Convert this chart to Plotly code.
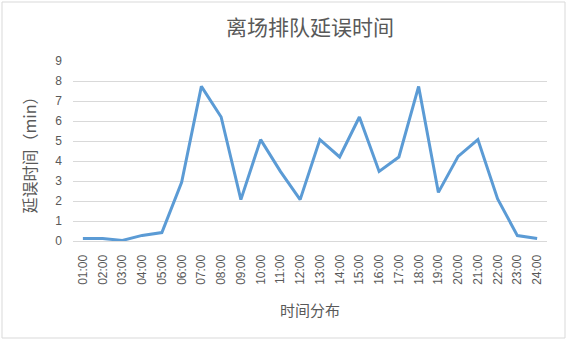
import plotly.graph_objects as go

hours = ["01:00","02:00","03:00","04:00","05:00","06:00","07:00","08:00","09:00","10:00",
         "11:00","12:00","13:00","14:00","15:00","16:00","17:00","18:00","19:00","20:00",
         "21:00","22:00","23:00","24:00"]
delay = [0.12,0.12,0.03,0.28,0.42,2.93,7.73,6.2,2.07,5.07,
         3.48,2.07,5.07,4.2,6.2,3.48,4.2,7.73,2.43,4.23,
         5.07,2.1,0.27,0.12]

font_cjk = "Noto Sans CJK SC, sans-serif"
grey = "#595959"

fig = go.Figure()
fig.add_trace(go.Scatter(x=hours, y=delay, mode="lines",
                         line=dict(color="#5B9BD5", width=3), hoverinfo="x+y"))

L, R, T, B = 73, 20, 61, 100
W, H = 567, 341
pw, ph = W - L - R, H - T - B

def px(x):
    return (x - L) / pw

def py(y):
    return (H - B - y) / ph

fig.update_layout(
    width=W, height=H,
    margin=dict(l=L, r=R, t=T, b=B),
    paper_bgcolor="white", plot_bgcolor="white",
    showlegend=False,
    title=dict(text="离场排队延误时间", x=0.5, xref="paper", xanchor="center",
               y=1 - 28/H, yanchor="middle",
               font=dict(family=font_cjk, size=21, color=grey)),
    xaxis=dict(type="category", range=[-0.5, 23.5], tickangle=-90,
               showgrid=False, showline=True, linecolor="#D9D9D9", linewidth=1,
               ticks="", ticklabelstandoff=8,
               tickfont=dict(family="Liberation Sans, Arial, sans-serif", size=12, color=grey),
               title=dict(text="时间分布", font=dict(family=font_cjk, size=15, color=grey), standoff=21)),
    yaxis=dict(range=[0, 9], dtick=1, showgrid=True, gridcolor="#D9D9D9", gridwidth=1,
               zeroline=False, showline=False, ticks="", ticklabelstandoff=10,
               tickfont=dict(family="Liberation Sans, Arial, sans-serif", size=12, color=grey),
               title=dict(text="延误时间（min）", font=dict(family=font_cjk, size=16, color=grey), standoff=14)),
    shapes=[dict(type="rect", xref="paper", yref="paper",
                 x0=px(2), x1=px(565), y0=py(338), y1=py(2),
                 line=dict(color="#D9D9D9", width=1), fillcolor="rgba(0,0,0,0)", layer="below")],
)

fig.write_html("out.html", config={"displayModeBar": False},
               post_script="document.body.style.margin='0';document.body.style.padding='0';")
